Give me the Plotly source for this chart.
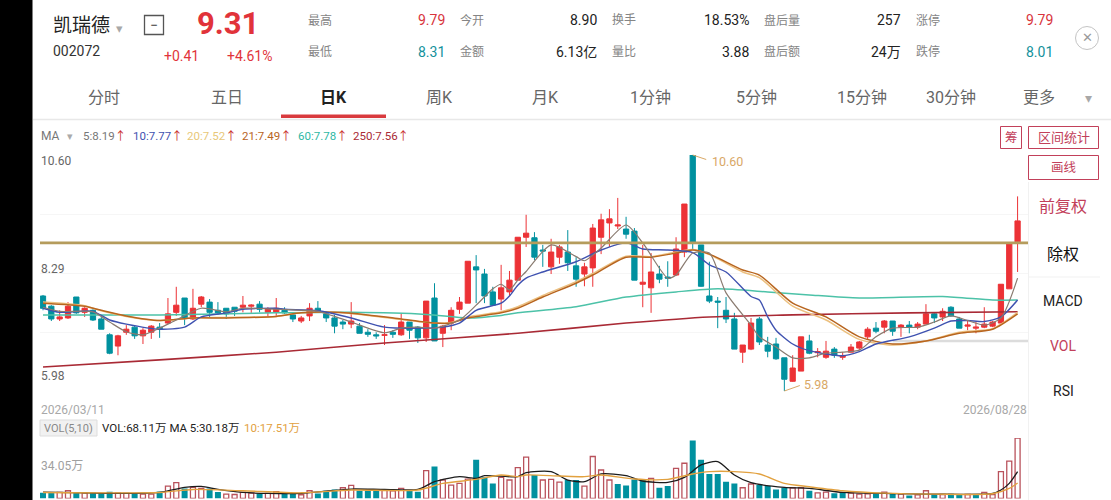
import plotly.graph_objects as go

# ---- daily candles (prices)
opens = [7.84, 7.64, 7.39, 7.41, 7.82, 7.52, 7.56, 7.39, 7.08, 6.86,
         7.13, 7.23, 7.06, 7.13, 7.23, 7.31, 7.52, 7.80, 7.39, 7.68,
         7.72, 7.56, 7.60, 7.62, 7.62, 7.64, 7.68, 7.52, 7.52, 7.56,
         7.47, 7.35, 7.45, 7.60, 7.49, 7.41, 7.33, 7.29, 7.25, 7.13,
         7.08, 7.07, 7.13, 7.08, 7.33, 7.23, 7.02, 7.80, 7.11, 7.31,
         7.58, 7.70, 8.41, 8.27, 7.92, 7.78, 7.92, 8.15, 8.99, 8.98,
         8.74, 8.41, 8.60, 8.70, 8.43, 8.27, 8.39, 8.99, 9.27, 9.21,
         9.15, 9.11, 8.07, 8.00, 8.27, 8.21, 8.25, 8.70, 10.60, 8.84,
         7.84, 7.74, 7.56, 7.39, 6.74, 6.80, 7.39, 6.88, 6.90, 6.63,
         6.17, 6.37, 6.96, 6.73, 6.64, 6.80, 6.64, 6.74, 6.82, 7.04,
         7.21, 7.23, 7.35, 7.23, 7.27, 7.23, 7.29, 7.49, 7.43, 7.62,
         7.39, 7.25, 7.21, 7.23, 7.25, 7.31, 7.98, 8.90]
highs = [7.86, 7.66, 7.56, 7.72, 7.82, 7.62, 7.58, 7.47, 7.11, 7.08,
         7.27, 7.27, 7.21, 7.27, 7.31, 7.80, 8.02, 7.80, 7.98, 7.84,
         7.78, 7.72, 7.60, 7.62, 7.84, 7.68, 7.74, 7.62, 7.80, 7.62,
         7.52, 7.45, 7.70, 7.74, 7.54, 7.47, 7.37, 7.72, 7.31, 7.19,
         7.13, 7.27, 7.17, 7.49, 7.33, 7.25, 7.74, 8.09, 7.27, 7.62,
         7.82, 8.52, 8.64, 8.37, 8.02, 8.45, 8.33, 8.99, 9.43, 9.09,
         8.84, 8.96, 8.84, 9.13, 8.60, 8.49, 9.25, 9.45, 9.54, 9.76,
         9.39, 9.17, 8.84, 8.68, 8.43, 8.52, 8.99, 9.64, 10.60, 8.84,
         8.51, 7.82, 7.82, 7.51, 6.88, 7.41, 7.43, 7.04, 7.02, 6.63,
         6.68, 7.04, 7.08, 6.82, 6.96, 6.84, 6.74, 6.90, 6.96, 7.23,
         7.33, 7.37, 7.35, 7.29, 7.35, 7.33, 7.68, 7.52, 7.60, 7.64,
         7.43, 7.37, 7.33, 7.62, 7.35, 8.07, 8.88, 9.79]
lows = [7.56, 7.35, 7.35, 7.39, 7.49, 7.43, 7.35, 7.19, 6.70, 6.68,
        7.08, 7.00, 6.90, 7.00, 7.02, 7.29, 7.45, 7.27, 7.37, 7.62,
        7.41, 7.47, 7.39, 7.45, 7.52, 7.51, 7.52, 7.43, 7.43, 7.49,
        7.33, 7.31, 7.35, 7.52, 7.33, 7.11, 7.19, 7.21, 7.11, 7.04,
        7.00, 6.88, 7.02, 7.06, 7.00, 6.92, 6.94, 6.96, 6.84, 7.17,
        7.49, 7.70, 7.70, 7.70, 7.66, 7.56, 7.84, 8.15, 8.80, 8.54,
        8.41, 8.27, 8.47, 8.33, 8.02, 8.03, 8.02, 8.66, 8.80, 9.15,
        8.96, 8.15, 7.62, 7.51, 8.09, 8.02, 8.23, 8.60, 8.74, 8.02,
        7.70, 7.21, 7.31, 6.80, 6.53, 6.78, 6.88, 6.64, 6.59, 5.98,
        6.16, 6.37, 6.70, 6.64, 6.61, 6.63, 6.59, 6.74, 6.78, 6.98,
        7.11, 7.11, 7.06, 7.04, 7.11, 7.19, 7.29, 7.31, 7.35, 7.43,
        7.21, 7.17, 7.11, 7.21, 7.23, 7.31, 7.98, 8.31]
closes = [7.60, 7.39, 7.43, 7.64, 7.51, 7.60, 7.37, 7.19, 6.72, 7.06,
          7.19, 7.06, 7.17, 7.25, 7.19, 7.49, 7.66, 7.41, 7.60, 7.82,
          7.52, 7.51, 7.49, 7.54, 7.66, 7.66, 7.58, 7.58, 7.60, 7.51,
          7.39, 7.41, 7.60, 7.54, 7.41, 7.25, 7.29, 7.35, 7.11, 7.09,
          7.06, 7.08, 7.09, 7.33, 7.17, 7.02, 7.74, 6.96, 7.25, 7.56,
          7.72, 8.52, 8.35, 7.84, 7.66, 8.00, 8.15, 8.99, 9.07, 8.60,
          8.72, 8.70, 8.80, 8.49, 8.17, 8.41, 9.17, 9.33, 9.35, 9.23,
          9.05, 8.15, 8.11, 8.31, 8.17, 8.19, 8.76, 9.64, 8.88, 8.03,
          7.74, 7.72, 7.39, 6.80, 6.88, 7.31, 6.94, 6.76, 6.61, 6.21,
          6.43, 7.04, 6.72, 6.75, 6.76, 6.68, 6.66, 6.84, 6.94, 7.19,
          7.15, 7.35, 7.15, 7.27, 7.23, 7.29, 7.49, 7.41, 7.54, 7.45,
          7.21, 7.27, 7.23, 7.29, 7.33, 8.07, 8.88, 9.31]

# ---- moving averages, read at the bends of each curve
ma5_i = [0, 2, 6, 8, 10, 12, 14, 16, 19, 22, 24, 28, 31, 33, 37, 41, 43, 45, 47, 50, 52, 54, 55, 56, 57, 58,
         61, 64, 65, 67, 70, 72, 75, 76, 78, 80, 82, 85, 86, 88, 90, 92, 94, 96, 98, 100, 102, 105, 107, 109,
         111, 113, 115, 117]
ma5 = [7.62, 7.54, 7.53, 7.33, 7.14, 7.08, 7.21, 7.37, 7.60, 7.53, 7.60, 7.58, 7.56, 7.54, 7.33, 7.12, 7.21,
       7.23, 7.21, 7.37, 7.66, 7.98, 8.07, 7.96, 8.15, 8.32, 8.84, 8.61, 8.53, 8.78, 9.23, 8.88, 8.19, 8.25,
       8.68, 8.68, 7.90, 7.27, 7.04, 6.84, 6.63, 6.63, 6.72, 6.74, 6.78, 7.04, 7.21, 7.23, 7.33, 7.45, 7.36,
       7.27, 7.41, 8.19]
ma10_i = [0, 2, 6, 8, 10, 14, 17, 19, 22, 24, 28, 29, 33, 37, 41, 46, 48, 50, 52, 55, 56, 57, 58, 60, 64, 67,
          70, 72, 75, 78, 80, 82, 85, 86, 87, 88, 90, 92, 96, 98, 100, 104, 107, 109, 111, 113, 115, 117]
ma10 = [7.60, 7.52, 7.54, 7.37, 7.29, 7.19, 7.23, 7.43, 7.51, 7.58, 7.60, 7.58, 7.55, 7.41, 7.23, 7.21, 7.23,
        7.31, 7.56, 7.70, 7.84, 8.05, 8.19, 8.31, 8.51, 8.74, 8.88, 8.76, 8.74, 8.69, 8.45, 8.31, 7.83, 7.76,
        7.43, 7.17, 6.90, 6.77, 6.67, 6.75, 6.90, 7.04, 7.21, 7.35, 7.36, 7.34, 7.43, 7.76]
ma21_i = [0, 5, 7, 10, 14, 18, 22, 28, 31, 35, 39, 43, 47, 49, 51, 55, 57, 60, 64, 66, 70, 73, 76, 78, 80, 84,
          86, 90, 94, 98, 102, 106, 110, 114, 117]
ma20 = [7.72, 7.65, 7.55, 7.44, 7.36, 7.41, 7.42, 7.44, 7.51, 7.52, 7.46, 7.38, 7.31, 7.32, 7.43, 7.53, 7.63,
        7.85, 8.12, 8.28, 8.62, 8.61, 8.70, 8.75, 8.65, 8.31, 8.20, 7.64, 7.37, 6.99, 6.88, 6.96, 7.13, 7.20,
        7.52]
ma21 = [7.70, 7.64, 7.56, 7.45, 7.36, 7.41, 7.41, 7.44, 7.51, 7.52, 7.47, 7.39, 7.31, 7.31, 7.41, 7.51, 7.60,
        7.82, 8.09, 8.25, 8.60, 8.60, 8.68, 8.74, 8.66, 8.35, 8.25, 7.70, 7.43, 7.04, 6.90, 6.96, 7.11, 7.19,
        7.49]
ma60_i = [0, 14, 28, 37, 46, 51, 55, 57, 64, 70, 76, 81, 87, 92, 98, 108, 114, 117]
ma60 = [7.47, 7.47, 7.51, 7.52, 7.48, 7.41, 7.46, 7.51, 7.63, 7.82, 7.92, 7.98, 7.92, 7.86, 7.80, 7.83, 7.76, 7.76]
ma250_i = [0, 14, 28, 41, 57, 70, 80, 90, 104, 117]
ma250 = [6.45, 6.59, 6.74, 6.92, 7.11, 7.31, 7.43, 7.47, 7.51, 7.53]

gold_level = 8.88
gray_level = 6.96
gray_from = 102
extreme_hi = 10.60
extreme_lo = 5.98
price_ticks = [5.98, 7.135, 8.29, 9.445, 10.60]

# ---- volume in 10k shares
volumes = [6.4, 6.8, 6.8, 8.7, 7.2, 6.0, 6.4, 6.0, 7.6, 6.0,
           5.7, 6.0, 4.9, 4.9, 7.9, 14.0, 17.8, 11.3, 12.5, 11.3,
           11.3, 7.2, 4.9, 4.5, 6.8, 6.0, 5.7, 5.7, 7.6, 5.7,
           5.7, 4.2, 8.7, 5.7, 8.7, 10.2, 12.1, 14.7, 8.7, 8.7,
           8.7, 9.5, 8.7, 11.3, 8.7, 7.6, 31.4, 35.9, 20.8, 15.1,
           17.0, 21.9, 43.5, 23.8, 17.0, 23.8, 20.8, 34.8, 46.5, 26.5,
           20.8, 21.5, 18.5, 20.8, 20.8, 14.0, 47.3, 32.1, 20.8, 16.3,
           14.7, 21.5, 20.8, 22.7, 12.1, 14.0, 34.0, 39.7, 65.4, 43.5,
           27.6, 27.6, 18.9, 17.0, 12.1, 16.3, 15.1, 14.0, 10.2, 12.1,
           12.1, 12.1, 8.7, 6.4, 7.2, 6.0, 6.4, 6.0, 4.9, 5.3,
           5.7, 7.2, 5.3, 4.9, 3.4, 4.2, 8.7, 4.9, 4.5, 5.3,
           4.5, 4.5, 4.9, 6.8, 4.5, 30.2, 42.0, 68.11]
vol_dir = ("TTRRTRTTTR" "RTRRTRRTRR" "TTRRRRTRRT" "TRRTTTRRTT" "TRRRTTRTRR"
           "RRTTTRRRRT" "RRRTTRRRRT" "TTTRTTRRTT" "TTTTRRTTTT" "RRTRRTTRRR"
           "TRTRTRRTRT" "TRTRRRRR")
vma5_i = [0, 10, 14, 17, 19, 21, 24, 27, 31, 34, 37, 41, 45, 47, 50, 52, 53, 57, 58, 61, 63, 65, 67, 70, 72, 75,
          77, 79, 81, 83, 85, 89, 92, 96, 101, 107, 114, 115, 116, 117]
vma5 = [7.2, 5.7, 6.8, 12.5, 13.6, 10.2, 6.8, 5.7, 5.7, 8.3, 10.6, 10.2, 10.2, 18.9, 24.6, 22.7, 25.7, 24.6,
        29.1, 30.2, 20.8, 18.9, 27.6, 25.7, 19.7, 18.1, 23.8, 37.8, 41.6, 26.5, 17.8, 12.5, 11.3, 6.8, 5.7, 4.9,
        5.7, 9.5, 17.0, 30.18]
vma10_i = [0, 14, 18, 24, 31, 37, 45, 48, 52, 55, 57, 58, 62, 65, 67, 71, 75, 78, 80, 83, 86, 89, 92, 96, 101,
           107, 114, 116, 117]
vma10 = [6.8, 6.8, 10.2, 8.7, 6.4, 9.5, 9.5, 17.0, 21.5, 26.5, 24.6, 26.5, 25.3, 24.6, 26.5, 21.9, 21.5, 27.6,
         30.2, 30.2, 27.6, 17.0, 13.2, 8.7, 6.0, 4.9, 5.3, 11.3, 17.51]

# ---- header texts
stat_labels = [["最高", "今开", "换手", "盘后量", "涨停"], ["最低", "金额", "量比", "盘后额", "跌停"]]
stat_values = [["9.79", "8.90", "18.53%", "257", "9.79"], ["8.31", "6.13亿", "3.88", "24万", "8.01"]]
tabs = ["分时", "五日", "日K", "周K", "月K", "1分钟", "5分钟", "15分钟", "30分钟", "更多"]
ma_legend = ["5:8.19", "10:7.77", "20:7.52", "21:7.49", "60:7.78", "250:7.56"]

# palette
red = "#ec3236"
teal = "#00919f"
hollow = "#b9525c"
gold = "#b59c5c"
c_ma5 = "#8a7b70"
c_ma10 = "#3f52b0"
c_ma20 = "#ecc07f"
c_ma21 = "#b8651f"
c_ma60 = "#4cc2a8"
c_ma250 = "#a92a35"
btn = "#c2405a"
WIDTH, HEIGHT = 1111, 500
BODY = "Roboto, 'Noto Sans CJK SC', sans-serif"


def fx(x):
    return x / WIDTH


def fy(y):
    return 1 - y / HEIGHT


annotations = []
shapes = []


def txt(x, y, s, size=12, color="#333", anchor="left", bold=False):
    if bold:
        s = f"<b>{s}</b>"
    annotations.append(dict(x=fx(x), y=fy(y), xref="paper", yref="paper", text=s, showarrow=False,
                            xanchor=anchor, yanchor="middle", borderpad=0,
                            font=dict(size=size, color=color, family=BODY)))


def box(x0, y0, x1, y1, line=None, fill=None, width=1):
    shapes.append(dict(type="rect", xref="paper", yref="paper", x0=fx(x0), x1=fx(x1), y0=fy(y0), y1=fy(y1),
                       fillcolor=fill, line=dict(color=line, width=width if line else 0), layer="above"))


def hline(x0, x1, y, color, width=1):
    shapes.append(dict(type="line", xref="paper", yref="paper", x0=fx(x0), x1=fx(x1), y0=fy(y), y1=fy(y),
                       line=dict(color=color, width=width), layer="below"))


ids = list(range(len(closes)))
fig = go.Figure()

fig.add_trace(go.Candlestick(
    x=ids, open=opens, high=highs, low=lows, close=closes,
    increasing=dict(line=dict(color=red, width=1), fillcolor=red),
    decreasing=dict(line=dict(color=teal, width=1), fillcolor=teal),
    whiskerwidth=0, xaxis="x", yaxis="y", hoverinfo="skip",
))

for xs, ys, col, w in [(ma250_i, ma250, c_ma250, 1.6), (ma60_i, ma60, c_ma60, 1.5), (ma21_i, ma20, c_ma20, 1.5),
                       (ma21_i, ma21, c_ma21, 1.5), (ma10_i, ma10, c_ma10, 1.4), (ma5_i, ma5, c_ma5, 1.2)]:
    fig.add_trace(go.Scatter(x=xs, y=ys, mode="lines", xaxis="x", yaxis="y", hoverinfo="skip",
                             line=dict(color=col, width=w, shape="spline", smoothing=0.7)))

up_x = [i for i in ids if vol_dir[i] == "R"]
dn_x = [i for i in ids if vol_dir[i] == "T"]
fig.add_trace(go.Bar(x=up_x, y=[volumes[i] for i in up_x], width=0.6, xaxis="x2", yaxis="y2", hoverinfo="skip",
                     marker=dict(color="white", line=dict(color=hollow, width=1.3))))
fig.add_trace(go.Bar(x=dn_x, y=[volumes[i] for i in dn_x], width=0.72, xaxis="x2", yaxis="y2", hoverinfo="skip",
                     marker=dict(color=teal, line=dict(width=0))))
fig.add_trace(go.Scatter(x=vma5_i, y=vma5, mode="lines", xaxis="x2", yaxis="y2", hoverinfo="skip",
                         line=dict(color="#1c1c1c", width=1.3, shape="spline", smoothing=0.7)))
fig.add_trace(go.Scatter(x=vma10_i, y=vma10, mode="lines", xaxis="x2", yaxis="y2", hoverinfo="skip",
                         line=dict(color="#e2a13f", width=1.4, shape="spline", smoothing=0.7)))

# level lines over the price pane
shapes.append(dict(type="line", xref="x", yref="y", x0=-0.36, x1=118.25, y0=gold_level, y1=gold_level,
                   line=dict(color=gold, width=2.6), layer="above"))
shapes.append(dict(type="line", xref="x", yref="y", x0=gray_from, x1=118.25, y0=gray_level, y1=gray_level,
                   line=dict(color="#dcdcdc", width=2.6), layer="below"))

# black strip and frame lines
box(0, 0, 32.5, 500, fill="#000000")
hline(33, 1111, 119.5, "#e8e8e8", 1.5)
shapes.append(dict(type="line", xref="paper", yref="paper", x0=fx(1028.5), x1=fx(1028.5), y0=fy(182), y1=fy(500),
                   line=dict(color="#f1f1f1", width=1), layer="below"))
hline(1028, 1100, 277, "#f1f1f1", 1)

# quote header
txt(52, 25, "凯瑞德", 19, "#222")
txt(119, 28, "▾", 13, "#a8a8a8", "center")
box(144.5, 15.5, 163.5, 34.5, line="#555", width=1.3)
txt(154, 25, "−", 14, "#444", "center")
txt(196, 23, "9.31", 31, "#e1333a", bold=True)
txt(52, 51, "002072", 14, "#333")
txt(163, 56, "+0.41", 14, "#e1333a")
txt(226, 56, "+4.61%", 14, "#e1333a")
label_x = [307, 459, 611, 763, 915]
value_x = [446, 598, 750, 902, 1054]
for r, y in enumerate([20, 52]):
    for c in range(5):
        txt(label_x[c], y, stat_labels[r][c], 12, "#858585")
        col = "#222"
        if c == 0 or c == 4:
            col = "#d8343c" if r == 0 else "#14919b"
        txt(value_x[c], y, stat_values[r][c], 14, col, "right")
shapes.append(dict(type="circle", xref="paper", yref="paper", x0=fx(1075.5), x1=fx(1098.5), y0=fy(26.5), y1=fy(49.5),
                   line=dict(color="#c4c4c4", width=1)))
txt(1087, 38, "✕", 13, "#9a9a9a", "center")

# period tabs
tab_x = [104, 227, 333, 439, 545, 650, 756, 862, 951, 1039]
for name, x in zip(tabs, tab_x):
    txt(x, 98, name, 16, "#222" if name == "日K" else "#666", "center", bold=name == "日K")
txt(1088, 98, "▾", 14, "#a8a8a8", "center")
box(281, 114.5, 386, 118, fill="#d93a3e")

# MA legend
txt(40, 136, "MA", 12, "#777")
txt(70, 136, "▾", 11, "#aaa", "center")
ma_x = [82, 132, 186, 241, 297, 352]
ma_col = ["#777777", c_ma10, "#e8c879", c_ma21, "#2fb8a4", c_ma250]
for s, x, col in zip(ma_legend, ma_x, ma_col):
    txt(x, 136, f"<span style='color:{col}'>{s}</span><span style='color:#c9302c'>↑</span>", 11.5, col)

# buttons on the right
box(1000.5, 126.5, 1021.5, 148.5, line=btn)
txt(1011, 137.5, "筹", 12.5, btn, "center")
box(1028.5, 126.5, 1098.5, 148.5, line=btn)
txt(1063.5, 137.5, "区间统计", 13, btn, "center")
box(1028.5, 155.5, 1098.5, 179.5, line=btn)
txt(1063.5, 167.5, "画线", 12.5, btn, "center")
txt(1063, 207, "前复权", 16, btn, "center")
txt(1063, 254, "除权", 16, "#111", "center")
txt(1063, 301, "MACD", 14, "#222", "center")
txt(1063, 346, "VOL", 14, btn, "center")
txt(1063, 391, "RSI", 14, "#222", "center")

# price pane texts
txt(40, 161, "10.60", 12, "#666")
txt(40, 269, "8.29", 12, "#666")
txt(40, 376, "5.98", 12, "#666")
txt(40, 410, "2026/03/11", 12, "#a8a8a8")
txt(1028, 410, "2026/08/28", 12, "#a8a8a8", "right")

# extreme labels with their leaders
annotations.append(dict(x=78, y=extreme_hi, xref="x", yref="y", ax=15, ay=5, text="", showarrow=True, arrowhead=0,
                        arrowwidth=1, arrowcolor="#d9a866", standoff=0))
txt(711, 161, f"{extreme_hi:.2f}", 12.5, "#d9a866")
annotations.append(dict(x=89, y=extreme_lo, xref="x", yref="y", ax=17, ay=-6, text="", showarrow=True, arrowhead=0,
                        arrowwidth=1, arrowcolor="#d9a866", standoff=0))
txt(803, 384, f"{extreme_lo:.2f}", 12.5, "#d9a866")

# volume legend
box(40, 420, 97, 436, line="#dddddd", fill="#f1f1f1")
txt(68.5, 428, "VOL(5,10)", 11, "#888", "center")
txt(101, 428, "VOL:68.11万 MA 5:30.18万", 11.5, "#222")
txt(243, 428, "10:17.51万", 11.5, "#e2a13f")
txt(40, 466, "34.05万", 12, "#a0a0a0")

hide = dict(visible=True, showticklabels=False, showgrid=False, zeroline=False, showline=False, ticks="")
fig.update_layout(
    width=WIDTH, height=HEIGHT, margin=dict(l=0, r=0, t=0, b=0),
    paper_bgcolor="white", plot_bgcolor="white", showlegend=False, hovermode=False,
    barmode="overlay", boxgap=0.1,
    annotations=annotations, shapes=shapes,
    xaxis=dict(domain=[fx(40), fx(1028)], range=[-0.36, 118.25], rangeslider=dict(visible=False), anchor="y", **hide),
    xaxis2=dict(domain=[fx(40), fx(1028)], range=[-0.36, 118.25], anchor="y2", **hide),
    yaxis=dict(domain=[fy(391), fy(155)], range=[extreme_lo, extreme_hi], anchor="x", visible=True, zeroline=False,
               showticklabels=False, showline=False, ticks="", tickmode="array", tickvals=price_ticks,
               showgrid=True, gridcolor="#f6f6f6", gridwidth=1),
    yaxis2=dict(domain=[fy(498.5), fy(438)], range=[0, 68.11], anchor="x2", **hide),
)

fig.write_html("out.html", config=dict(displayModeBar=False),
               post_script="document.body.style.margin='0';document.body.style.overflow='hidden';")
